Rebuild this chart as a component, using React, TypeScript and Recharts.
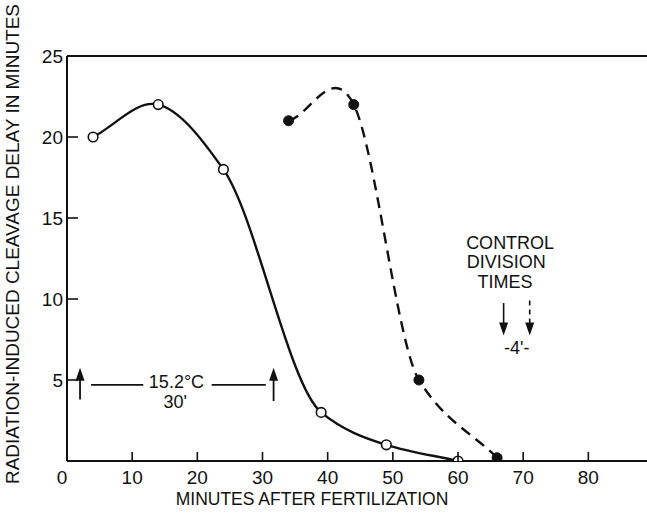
import React from "react";
import { LineChart, Line, XAxis, YAxis, ReferenceLine, ReferenceDot } from "recharts";

const xTicks = [0, 10, 20, 30, 40, 50, 60, 70, 80];
const yTicks = [5, 10, 15, 20, 25];

const solidMinutes = [4, 14, 24, 39, 49, 60];
const solidDelay = [20, 22, 18, 3, 1, 0];

const dashedMinutes = [34, 44, 54, 66];
const dashedDelay = [21, 22, 5, 0.2];

const solidData = solidMinutes.map((x, i) => ({ x, y: solidDelay[i] }));
const dashedData = dashedMinutes.map((x, i) => ({ x, y: dashedDelay[i] }));

const FONT = "'Liberation Sans', Arial, sans-serif";
const INK = "#111";

// Smooth Hermite curve through every point (harmonic tangents where monotone,
// centred tangents at turning points)
const smoothCurve = (context: any) => {
  let pts: number[][] = [];
  return {
    areaStart() {},
    areaEnd() {},
    lineStart() {
      pts = [];
    },
    point(x: number, y: number) {
      pts.push([+x, +y]);
    },
    lineEnd() {
      const n = pts.length;
      if (!n) return;
      context.moveTo(pts[0][0], pts[0][1]);
      if (n === 1) return;
      if (n === 2) {
        context.lineTo(pts[1][0], pts[1][1]);
        return;
      }
      const s: number[] = [];
      for (let i = 0; i < n - 1; i++) s.push((pts[i + 1][1] - pts[i][1]) / (pts[i + 1][0] - pts[i][0]));
      const m: number[] = new Array(n);
      m[0] = s[0];
      m[n - 1] = s[n - 2];
      for (let i = 1; i < n - 1; i++) {
        const a = s[i - 1];
        const b = s[i];
        if (a * b > 0) m[i] = (2 * a * b) / (a + b);
        else m[i] = (pts[i + 1][1] - pts[i - 1][1]) / (pts[i + 1][0] - pts[i - 1][0]);
      }
      for (let i = 0; i < n - 1; i++) {
        const [x0, y0] = pts[i];
        const [x1, y1] = pts[i + 1];
        const h = (x1 - x0) / 3;
        context.bezierCurveTo(x0 + h, y0 + m[i] * h, x1 - h, y1 - m[i + 1] * h, x1, y1);
      }
    },
  };
};

const XTick = (props: any) => {
  const { x, y, payload } = props;
  const v = payload.value;
  return (
    <g>
      {v !== 0 && <line x1={x} x2={x} y1={y} y2={y - 9} stroke={INK} strokeWidth={1.6} />}
      <text x={v === 0 ? x - 5 : x} y={y + 23} textAnchor="middle" fontSize={19} fontFamily={FONT} fill={INK}>
        {v}
      </text>
    </g>
  );
};

const YTick = (props: any) => {
  const { x, y, payload } = props;
  const v = payload.value;
  return (
    <g>
      {v !== 25 && <line x1={x} x2={x + 11} y1={y} y2={y} stroke={INK} strokeWidth={1.6} />}
      <text x={x - 4} y={y + 7} textAnchor="end" fontSize={19} fontFamily={FONT} fill={INK}>
        {v}
      </text>
    </g>
  );
};

const OpenDot = (props: any) => {
  const { cx, cy } = props;
  return <circle cx={cx} cy={cy} r={4.8} fill="#fff" stroke={INK} strokeWidth={1.6} />;
};
const FilledDot = (props: any) => {
  const { cx, cy } = props;
  return <circle cx={cx} cy={cy} r={5} fill={INK} stroke={INK} strokeWidth={1} />;
};

// tip at (cx,cy), pointing up
const upHead = (p: any) => <path d={`M${p.cx},${p.cy} l-4.5,13 l9,0 z`} fill={INK} />;
// tip at (cx,cy), pointing down
const downHead = (p: any) => <path d={`M${p.cx},${p.cy} l-4.5,-13 l9,0 z`} fill={INK} />;
const txt = (s: string, size = 18) => (p: any) => (
  <text x={p.cx} y={p.cy} textAnchor="middle" fontSize={size} fontFamily={FONT} fill={INK}>
    {s}
  </text>
);

export default function App() {
  return (
    <div style={{ position: "absolute", left: 0, top: 0, width: 647, height: 525, overflow: "hidden", background: "#fff" }}>
      <LineChart width={647} height={525} margin={{ top: 56, right: 0, bottom: 34, left: 0 }}>
        <XAxis
          type="number"
          dataKey="x"
          domain={[0, 89]}
          ticks={xTicks}
          allowDataOverflow
          height={30}
          tickSize={0}
          tickMargin={0}
          tick={<XTick />}
          axisLine={{ stroke: INK, strokeWidth: 2 }}
          tickLine={false}
        />
        <YAxis
          type="number"
          dataKey="y"
          domain={[0, 25]}
          ticks={yTicks}
          allowDataOverflow
          width={67}
          tickSize={0}
          tickMargin={0}
          tick={<YTick />}
          axisLine={{ stroke: INK, strokeWidth: 2 }}
          tickLine={false}
        />
        <ReferenceLine y={25} stroke={INK} strokeWidth={2} ifOverflow="visible" />

        <Line data={solidData} dataKey="y" type={smoothCurve as any} stroke={INK} strokeWidth={2.4} dot={<OpenDot />} activeDot={false} isAnimationActive={false} />
        <Line data={dashedData} dataKey="y" type={smoothCurve as any} stroke={INK} strokeWidth={2.4} strokeDasharray="11 7" dot={<FilledDot />} activeDot={false} isAnimationActive={false} />

        {/* 15.2°C annotation */}
        <ReferenceLine segment={[{ x: 2, y: 3.8 }, { x: 2, y: 5.2 }]} stroke={INK} strokeWidth={1.8} />
        <ReferenceDot x={2} y={5.75} r={0} shape={upHead as any} />
        <ReferenceLine segment={[{ x: 31.7, y: 3.7 }, { x: 31.7, y: 5.2 }]} stroke={INK} strokeWidth={1.8} />
        <ReferenceDot x={31.7} y={5.75} r={0} shape={upHead as any} />
        <ReferenceLine segment={[{ x: 3.7, y: 4.7 }, { x: 11.7, y: 4.7 }]} stroke={INK} strokeWidth={1.8} />
        <ReferenceLine segment={[{ x: 22.2, y: 4.7 }, { x: 30.5, y: 4.7 }]} stroke={INK} strokeWidth={1.8} />
        <ReferenceDot x={16.8} y={4.5} r={0} shape={txt("15.2°C")} />
        <ReferenceDot x={16.6} y={3.3} r={0} shape={txt("30'")} />

        {/* control division times */}
        <ReferenceDot x={68.0} y={13.1} r={0} shape={txt("CONTROL")} />
        <ReferenceDot x={67.4} y={11.9} r={0} shape={txt("DIVISION")} />
        <ReferenceDot x={67.2} y={10.65} r={0} shape={txt("TIMES")} />
        <ReferenceLine segment={[{ x: 67.0, y: 9.75 }, { x: 67.0, y: 8.5 }]} stroke={INK} strokeWidth={1.6} />
        <ReferenceDot x={67.0} y={7.75} r={0} shape={downHead as any} />
        <ReferenceLine segment={[{ x: 71.0, y: 9.9 }, { x: 71.0, y: 8.5 }]} stroke={INK} strokeWidth={1.6} strokeDasharray="5 4" />
        <ReferenceDot x={71.0} y={7.75} r={0} shape={downHead as any} />
        <ReferenceDot x={69.0} y={6.6} r={0} shape={txt("-4'-")} />
      </LineChart>
      <svg width={647} height={525} style={{ position: "absolute", left: 0, top: 0, pointerEvents: "none" }}>
        <text x={312} y={505} textAnchor="middle" fontSize={17.5} fontFamily={FONT} fill={INK}>
          MINUTES AFTER FERTILIZATION
        </text>
        <text
          x={0}
          y={0}
          transform="translate(19,244) rotate(-90)"
          textAnchor="middle"
          fontSize={18}
          textLength={480}
          lengthAdjust="spacingAndGlyphs"
          fontFamily={FONT}
          fill={INK}
        >
          RADIATION-INDUCED CLEAVAGE DELAY IN MINUTES
        </text>
      </svg>
    </div>
  );
}
